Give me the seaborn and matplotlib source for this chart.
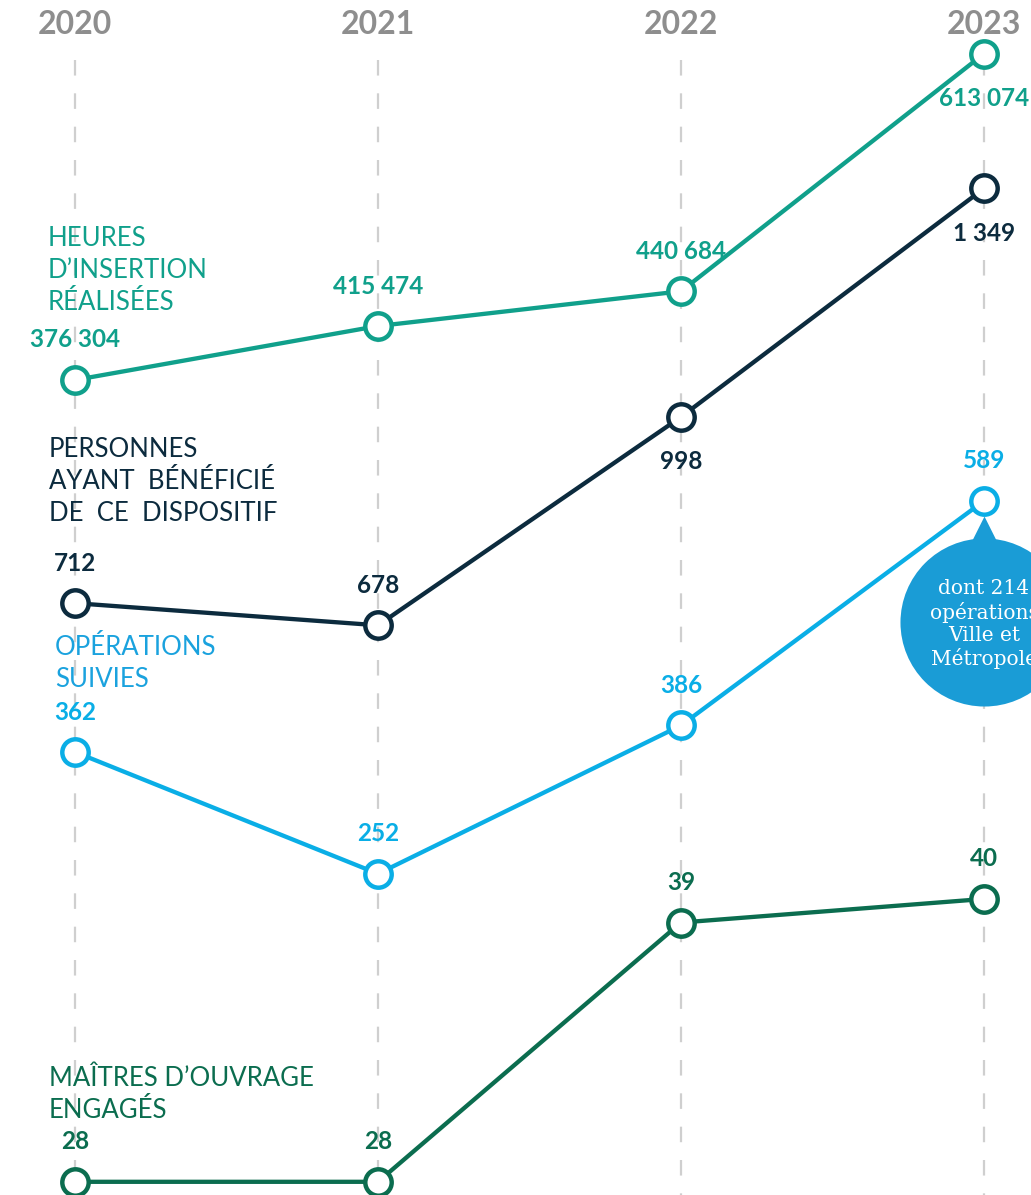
import numpy as np
import pandas as pd
import matplotlib
matplotlib.use("Agg")
import matplotlib.pyplot as plt
import seaborn as sns

# data
years = [2020, 2021, 2022, 2023]
heures = [376304, 415474, 440684, 613074]
personnes = [712, 678, 998, 1349]
operations = [362, 252, 386, 589]
maitres = [28, 28, 39, 40]

series_names = ["HEURES\nD\u2019INSERTION\nRÉALISÉES",
                "PERSONNES\nAYANT  BÉNÉFICIÉ\nDE  CE  DISPOSITIF",
                "OPÉRATIONS\nSUIVIES",
                "MAÎTRES D\u2019OUVRAGE\nENGAGÉS"]
bubble_text = "dont 214\nopérations\nVille et\nMétropole"

# style / layout per series: colour, own y-scale, label placement (px), value label side
styles = [
    dict(color="#10a08b", ylim=(-215133, 652066), name_xy=(48, 226), sides=["up", "up", "up", "down"]),
    dict(color="#0c2b3e", ylim=(-197.1, 1638.5), name_xy=(49, 437), sides=["up", "up", "down", "down"]),
    dict(color="#0aaee6", ylim=(-38.3, 1041.6), name_xy=(55, 635), sides=["up", "up", "up", "up"]),
    dict(color="#0b6d4f", ylim=(27.44, 78.14), name_xy=(49, 1066), sides=["up", "up", "up", "up"]),
]
label_colors = ["#10a08b", "#0c2b3e", "#1aa2de", "#0b6d4f"]
all_values = [heures, personnes, operations, maitres]

W, H = 1031, 1195
sns.set_style("white")
plt.rcParams['font.family'] = ['Lato', 'DejaVu Sans']

fig = plt.figure(figsize=(W / 100, H / 100), dpi=100)
xlim = (2020 - 75 / 303, 2023 + (W - 984) / 303)

# base axes: years on x, pixels on y (for the grid, headers and bubble)
base = fig.add_axes([0, 0, 1, 1])
base.set_xlim(*xlim)
base.set_ylim(H, 0)
base.axis("off")
for yr in years:
    base.plot([yr, yr], [60, H], color="#cfcfcf", lw=1.6,
              linestyle=(0, (7.0, 8.0)), zorder=1)
    base.text(yr, 24, str(yr), ha="center", va="center", fontsize=23,
              fontweight="bold", color="#8e8e8e")

# bubble under the 2023 operations point
base.scatter([2023], [622], s=121 ** 2, color="#1a9cd6", zorder=3, linewidths=0)
base.scatter([2023], [541], s=36 ** 2, marker="^", color="#1a9cd6", zorder=3, linewidths=0)
base.text(2023, 624, bubble_text, ha="center", va="center", color="white",
          fontsize=14.5, family="DejaVu Serif", linespacing=1.2, zorder=4)

for vals, st, name, lc in zip(all_values, styles, series_names, label_colors):
    ax = fig.add_axes([0, 0, 1, 1])
    ax.patch.set_visible(False)
    df = pd.DataFrame({"year": years, "value": vals})
    sns.lineplot(data=df, x="year", y="value", ax=ax, color=st["color"],
                 linewidth=3.1, marker="o", markersize=19,
                 markerfacecolor="white", markeredgecolor=st["color"],
                 markeredgewidth=3.2, clip_on=False, legend=False)
    ax.set_xlim(*xlim)
    ax.set_ylim(*st["ylim"])
    ax.axis("off")
    for x, v, side in zip(years, vals, st["sides"]):
        dy = 40 if side == "up" else -45
        ax.annotate(f"{v:,}".replace(",", " "), (x, v), xytext=(0, dy),
                    textcoords="offset pixels", ha="center", va="center",
                    fontsize=17.5, fontweight="bold", color=st["color"])
    fig.text(st["name_xy"][0] / W, 1 - st["name_xy"][1] / H, name,
             ha="left", va="top", fontsize=18.5, color=lc, linespacing=1.35)

fig.savefig("out.png", dpi=100)
